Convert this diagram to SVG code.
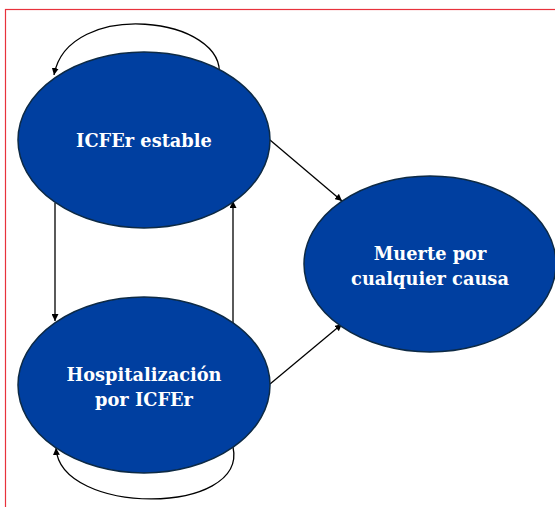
<svg xmlns="http://www.w3.org/2000/svg" width="555" height="507" viewBox="0 0 555 507">
<style>
.node{fill:#003fa0;stroke:#0d2a45;stroke-width:1.5}
.lbl{font-family:"DejaVu Serif","Liberation Serif",serif;font-weight:bold;font-size:17.8px;fill:#fff;text-anchor:middle}
.edge{fill:none;stroke:#000;stroke-width:1.3;marker-end:url(#ah)}
</style>
<defs>
<marker id="ah" viewBox="0 0 10 10" refX="10" refY="5" markerWidth="7" markerHeight="7" orient="auto" markerUnits="userSpaceOnUse">
<path d="M0,0 L10,5 L0,10 z" fill="#000"/>
</marker>
</defs>
<rect x="5.5" y="9.5" width="600" height="600" fill="#fff" stroke="#e8323c" stroke-width="1.2"/>
<g id="connectors">
<path class="edge" d="M219,77 C228,16 68,-2 54,75"/>
<path class="edge" d="M233,447 C248,516 60,516 56,448"/>
<path class="edge" d="M55,203 L55,321"/>
<path class="edge" d="M233,324 L233,201"/>
<path class="edge" d="M270,140 L342,201"/>
<path class="edge" d="M270,384 L342,324"/>
</g>
<g id="n1">
<ellipse class="node" cx="144" cy="140" rx="126" ry="88"/>
<text class="lbl" x="144" y="147">ICFEr estable</text>
</g>
<g id="n2">
<ellipse class="node" cx="144" cy="385" rx="126" ry="88"/>
<text class="lbl" x="144" y="381">Hospitalización</text>
<text class="lbl" x="144" y="406">por ICFEr</text>
</g>
<g id="n3">
<ellipse class="node" cx="430" cy="264" rx="126" ry="88"/>
<text class="lbl" x="430" y="260">Muerte por</text>
<text class="lbl" x="430" y="285">cualquier causa</text>
</g>
</svg>
